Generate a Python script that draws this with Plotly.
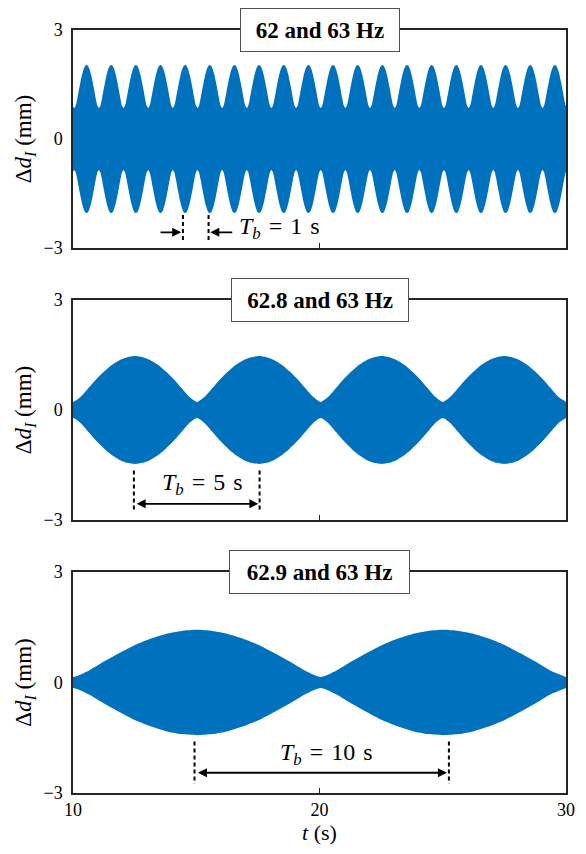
import plotly.graph_objects as go

# ---------------- data ----------------
panel_titles = ["62 and 63 Hz", "62.8 and 63 Hz", "62.9 and 63 Hz"]

# times of envelope minima (beat "pinches") for each panel, in seconds
troughs_1 = [9.05, 10.05, 11.05, 12.05, 13.05, 14.05, 15.05, 16.05, 17.05, 18.05, 19.05,
             20.05, 21.05, 22.05, 23.05, 24.05, 25.05, 26.05, 27.05, 28.05, 29.05, 30.05]
troughs_2 = [5.0, 10.0, 15.03, 20.05, 25.0, 30.0]
troughs_3 = [0.0, 10.0, 20.05, 30.0]

# envelope amplitude (mm) sampled over half a beat, from a pinch (0) to a crest (8/16 of period)
half_profile_1 = [0.85, 0.92, 1.11, 1.34, 1.56, 1.76, 1.91, 2.01, 2.04]
half_profile_2 = [0.22, 0.36, 0.60, 0.84, 1.05, 1.23, 1.36, 1.44, 1.47]
half_profile_3 = [0.15, 0.32, 0.57, 0.80, 1.02, 1.19, 1.32, 1.40, 1.43]

# beat-period markers: dashed-line times, and label text
marks_1 = [14.46, 15.50]
marks_2 = [12.47, 17.57]
marks_3 = [14.93, 25.25]
SP = "\u2004"
tb_labels = [f"<i>T</i><sub><i>b</i></sub>{SP}={SP}1{SP}s",
             f"<i>T</i><sub><i>b</i></sub>{SP}={SP}5{SP}s",
             f"<i>T</i><sub><i>b</i></sub>{SP}={SP}10{SP}s"]

x_ticks = [10, 20, 30]
y_ticks = [-3, 0, 3]

# ---------------- figure ----------------
BLUE = "#0072BD"
AX = "#262626"
FONT = "Times New Roman, Liberation Serif, serif"

fig = go.Figure()


def envelope(troughs, half):
    prof = half + half[-2::-1]          # full beat profile (17 samples, pinch to pinch)
    n = len(prof) - 1
    xs, ys = [], []
    for a, b in zip(troughs[:-1], troughs[1:]):
        for k in range(n):
            xs.append(a + (b - a) * k / n)
            ys.append(prof[k])
    xs.append(troughs[-1])
    ys.append(prof[-1])
    return xs, ys


sets = [(troughs_1, half_profile_1), (troughs_2, half_profile_2), (troughs_3, half_profile_3)]
for i, (tr, hp) in enumerate(sets):
    xa = "x" if i == 0 else f"x{i+1}"
    ya = "y" if i == 0 else f"y{i+1}"
    xs, ys = envelope(tr, hp)
    fig.add_trace(go.Scatter(x=xs, y=[-v for v in ys], mode="lines",
                             line=dict(width=0, color=BLUE, shape="spline", smoothing=0.6),
                             xaxis=xa, yaxis=ya, showlegend=False, hoverinfo="skip"))
    fig.add_trace(go.Scatter(x=xs, y=ys, mode="lines", fill="tonexty", fillcolor=BLUE,
                             line=dict(width=0, color=BLUE, shape="spline", smoothing=0.6),
                             xaxis=xa, yaxis=ya, showlegend=False, hoverinfo="skip"))

domains = [(0.7143, 1.0), (0.3578, 0.6461), (0.0, 0.2896)]
for i, dom in enumerate(domains):
    sfx = "" if i == 0 else str(i + 1)
    fig.update_layout(**{
        f"xaxis{sfx}": dict(domain=[0, 1], range=[10, 30], anchor=f"y{sfx}",
                            tickvals=x_ticks, ticks="inside", ticklen=5, tickwidth=1,
                            tickcolor=AX, showline=True, linecolor=AX, linewidth=1.5,
                            mirror=True, showgrid=False, zeroline=False,
                            showticklabels=(i == 2),
                            tickfont=dict(family=FONT, size=18, color="black")),
        f"yaxis{sfx}": dict(domain=list(dom), range=[-3, 3], anchor=f"x{sfx}",
                            tickvals=y_ticks, ticks="", showline=True, linecolor=AX,
                            linewidth=1.5, mirror=True, showgrid=False, zeroline=False,
                            ticklabelstandoff=5,
                            tickfont=dict(family=FONT, size=18, color="black"),
                            title=dict(text="Δ<i>d</i><sub><i>I</i></sub> (mm)", standoff=5,
                                       font=dict(family=FONT, size=23, color="black"))),
    })

fig.update_layout(xaxis3_title=dict(text="<i>t</i> (s)", standoff=2,
                                    font=dict(family=FONT, size=22, color="black")))

annots = []
box_widths = [146, 164, 167]
for i, title in enumerate(panel_titles):
    sfx = "" if i == 0 else str(i + 1)
    annots.append(dict(x=20, y=3, xref=f"x{sfx}", yref=f"y{sfx}", text=f"<b>{title}</b>",
                       showarrow=False, xanchor="center", yanchor="middle",
                       font=dict(family=FONT, size=23, color="black"),
                       bgcolor="white", bordercolor="#505050", borderwidth=1, borderpad=6,
                       width=box_widths[i], height=30))

shapes = []
dash_spans = [(-2.09, -2.78), (-1.65, -2.78), (-1.60, -2.75)]
for i, marks in enumerate([marks_1, marks_2, marks_3]):
    sfx = "" if i == 0 else str(i + 1)
    for m in marks:
        shapes.append(dict(type="line", xref=f"x{sfx}", yref=f"y{sfx}", x0=m, x1=m,
                           y0=dash_spans[i][0], y1=dash_spans[i][1],
                           line=dict(color="black", width=2, dash="4px,3px")))

TB_FONT = dict(family=FONT, size=24, color="black")

# panel 1: two inward-pointing arrows + label
arrow_y1 = -2.57
annots.append(dict(x=marks_1[0] - 0.07, y=arrow_y1, ax=13.49, ay=arrow_y1, xref="x", yref="y",
                   axref="x", ayref="y", text="", showarrow=True, arrowhead=2, arrowsize=1,
                   arrowwidth=1.8, arrowcolor="black"))
annots.append(dict(x=marks_1[1] + 0.07, y=arrow_y1, ax=16.52, ay=arrow_y1, xref="x", yref="y",
                   axref="x", ayref="y", text="", showarrow=True, arrowhead=2, arrowsize=1,
                   arrowwidth=1.8, arrowcolor="black"))
annots.append(dict(x=16.66, y=-2.45, xref="x", yref="y", text=tb_labels[0], showarrow=False,
                   xanchor="left", yanchor="middle", font=TB_FONT))

# panel 2: double arrow + label
annots.append(dict(x=marks_2[1] - 0.05, y=-2.56, ax=marks_2[0] + 0.05, ay=-2.56, xref="x2", yref="y2",
                   axref="x2", ayref="y2", text="", showarrow=True, arrowhead=2, startarrowhead=2,
                   arrowside="end+start", arrowsize=1, startarrowsize=1, arrowwidth=1.8,
                   arrowcolor="black"))
annots.append(dict(x=15.25, y=-2.02, xref="x2", yref="y2", text=tb_labels[1], showarrow=False,
                   xanchor="center", yanchor="middle", font=TB_FONT))

# panel 3: double arrow + label
annots.append(dict(x=marks_3[1] - 0.08, y=-2.45, ax=marks_3[0] + 0.08, ay=-2.45, xref="x3", yref="y3",
                   axref="x3", ayref="y3", text="", showarrow=True, arrowhead=2, startarrowhead=2,
                   arrowside="end+start", arrowsize=1, startarrowsize=1, arrowwidth=1.8,
                   arrowcolor="black"))
annots.append(dict(x=20.3, y=-1.93, xref="x3", yref="y3", text=tb_labels[2], showarrow=False,
                   xanchor="center", yanchor="middle", font=TB_FONT))

fig.update_layout(width=586, height=854, margin=dict(l=73, r=11, t=30, b=61),
                  paper_bgcolor="white", plot_bgcolor="white",
                  annotations=annots, shapes=shapes, showlegend=False)

fig.write_html("out.html")
